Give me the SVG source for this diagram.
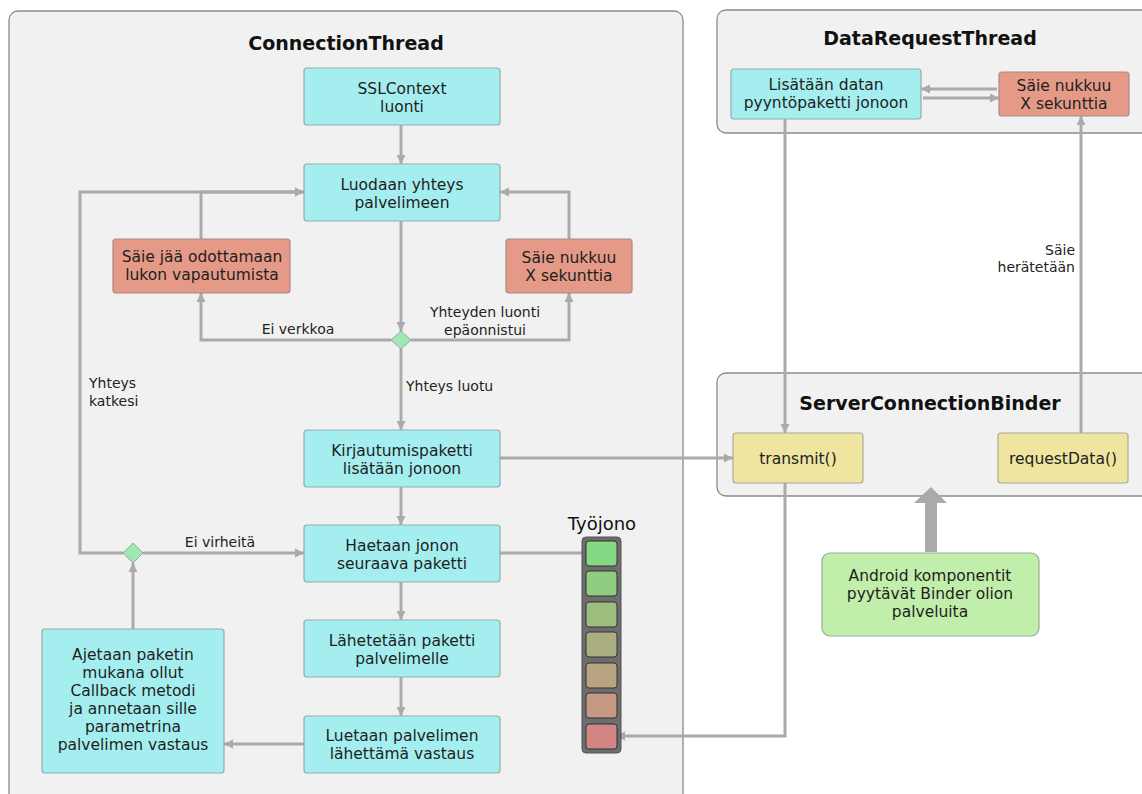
<svg xmlns="http://www.w3.org/2000/svg" width="1142" height="794" viewBox="0 0 1142 794">
<style>
.cont{fill:#f1f1f1;stroke:#8a8a8a;stroke-width:1.3}
.title{font-family:"DejaVu Sans",sans-serif;font-weight:bold;font-size:19px;fill:#111;text-anchor:middle}
.cyan{fill:#a5eeef;stroke:#9aa;stroke-width:1.2}
.red{fill:#e59a88;stroke:#a88;stroke-width:1.2}
.yel{fill:#efe5a0;stroke:#aa9;stroke-width:1.2}
.grn{fill:#c2eeab;stroke:#9a9;stroke-width:1.2}
.bt{font-family:"DejaVu Sans",sans-serif;font-size:15.5px;fill:#1e1e1e;text-anchor:middle}
.lbl{font-family:"DejaVu Sans",sans-serif;font-size:14px;fill:#222}
.mt{font-family:"DejaVu Sans",sans-serif;font-size:15.5px;fill:#222;text-anchor:middle}
.ln{fill:none;stroke:#aaaaaa;stroke-width:3}
.dia{fill:#9de8b5;stroke:#9a9;stroke-width:1}
</style>
<defs>
<marker id="ah" markerUnits="userSpaceOnUse" markerWidth="10" markerHeight="10" refX="9" refY="5" orient="auto">
<path d="M0,0.5 L9,5 L0,9.5 z" fill="#aaaaaa"/>
</marker>
</defs>

<g id="connectionThread">
<rect class="cont" x="9" y="11" width="674" height="800" rx="9"/>
<text class="title" x="346" y="50">ConnectionThread</text>
</g>
<g id="dataRequestThread">
<rect class="cont" x="717" y="10" width="440" height="123" rx="9"/>
<text class="title" x="930" y="45">DataRequestThread</text>
</g>
<g id="serverConnectionBinder">
<rect class="cont" x="717" y="373" width="440" height="123" rx="9"/>
<text class="title" x="930" y="410">ServerConnectionBinder</text>
</g>

<g id="connectors">
<path class="ln" d="M401,125 V164" marker-end="url(#ah)"/>
<path class="ln" d="M401,221 V331" marker-end="url(#ah)"/>
<path class="ln" d="M391,340 H201 V293" marker-end="url(#ah)"/>
<path class="ln" d="M411,340 H569 V293" marker-end="url(#ah)"/>
<path class="ln" d="M201,239 V192 H304" marker-end="url(#ah)"/>
<path class="ln" d="M569,239 V192 H500" marker-end="url(#ah)"/>
<path class="ln" d="M123,553 H80 V192 H304" marker-end="url(#ah)"/>
<path class="ln" d="M401,349 V430" marker-end="url(#ah)"/>
<path class="ln" d="M401,487 V525" marker-end="url(#ah)"/>
<path class="ln" d="M401,582 V620" marker-end="url(#ah)"/>
<path class="ln" d="M401,677 V716" marker-end="url(#ah)"/>
<path class="ln" d="M304,744 H224" marker-end="url(#ah)"/>
<path class="ln" d="M133,629 V563" marker-end="url(#ah)"/>
<path class="ln" d="M143,553 H304" marker-end="url(#ah)"/>
<path class="ln" d="M500,553 H594" marker-end="url(#ah)"/>
<path class="ln" d="M500,458 H733" marker-end="url(#ah)"/>
<path class="ln" d="M785,483 V736 H616" marker-end="url(#ah)"/>
<path class="ln" d="M785,119 V433" marker-end="url(#ah)"/>
<path class="ln" d="M1081,433 V116" marker-end="url(#ah)"/>
<path class="ln" d="M997,89 H921" marker-end="url(#ah)"/>
<path class="ln" d="M923,98 H999" marker-end="url(#ah)"/>
<polygon points="925,552 937,552 937,503 947,503 931,487 914,503 925,503" fill="#aaaaaa"/>
<text class="lbl" x="298" y="334" text-anchor="middle">Ei verkkoa</text>
<text class="lbl" x="485" y="317" text-anchor="middle">Yhteyden luonti</text>
<text class="lbl" x="485" y="335" text-anchor="middle">epäonnistui</text>
<text class="lbl" x="89" y="388">Yhteys</text>
<text class="lbl" x="89" y="406">katkesi</text>
<text class="lbl" x="406" y="391">Yhteys luotu</text>
<text class="lbl" x="220" y="547" text-anchor="middle">Ei virheitä</text>
<text class="lbl" x="1075" y="255" text-anchor="end">Säie</text>
<text class="lbl" x="1075" y="272" text-anchor="end">herätetään</text>
</g>

<g id="sslcontext">
<rect class="cyan" x="304" y="68" width="196" height="57" rx="3"/>
<text class="bt" x="402" y="94">SSLContext</text>
<text class="bt" x="402" y="112">luonti</text>
</g>
<g id="luodaan">
<rect class="cyan" x="304" y="164" width="196" height="57" rx="3"/>
<text class="bt" x="402" y="190">Luodaan yhteys</text>
<text class="bt" x="402" y="208">palvelimeen</text>
</g>
<g id="saie-jaa">
<rect class="red" x="113" y="239" width="177" height="54" rx="3"/>
<text class="bt" x="202" y="262">Säie jää odottamaan</text>
<text class="bt" x="202" y="280">lukon vapautumista</text>
</g>
<g id="saie-nukkuu">
<rect class="red" x="506" y="239" width="126" height="54" rx="3"/>
<text class="bt" x="569" y="263">Säie nukkuu</text>
<text class="bt" x="569" y="281">X sekunttia</text>
</g>
<g id="diamond1">
<polygon class="dia" points="401,331 411,340 401,349 391,340"/>
</g>
<g id="kirjautumis">
<rect class="cyan" x="304" y="430" width="196" height="57" rx="3"/>
<text class="bt" x="402" y="456">Kirjautumispaketti</text>
<text class="bt" x="402" y="474">lisätään jonoon</text>
</g>
<g id="haetaan">
<rect class="cyan" x="304" y="525" width="196" height="57" rx="3"/>
<text class="bt" x="402" y="551">Haetaan jonon</text>
<text class="bt" x="402" y="569">seuraava paketti</text>
</g>
<g id="lahetetaan">
<rect class="cyan" x="304" y="620" width="196" height="57" rx="3"/>
<text class="bt" x="402" y="646">Lähetetään paketti</text>
<text class="bt" x="402" y="664">palvelimelle</text>
</g>
<g id="luetaan">
<rect class="cyan" x="304" y="716" width="196" height="57" rx="3"/>
<text class="bt" x="402" y="741">Luetaan palvelimen</text>
<text class="bt" x="402" y="759">lähettämä vastaus</text>
</g>
<g id="ajetaan">
<rect class="cyan" x="42" y="629" width="182" height="144" rx="3"/>
<text class="bt" x="133" y="660">Ajetaan paketin</text>
<text class="bt" x="133" y="678">mukana ollut</text>
<text class="bt" x="133" y="696">Callback metodi</text>
<text class="bt" x="133" y="714">ja annetaan sille</text>
<text class="bt" x="133" y="732">parametrina</text>
<text class="bt" x="133" y="750">palvelimen vastaus</text>
</g>
<g id="diamond2">
<polygon class="dia" points="133,543 143,553 133,563 123,553"/>
</g>
<g id="tyojono">
<text x="602" y="530" font-family="DejaVu Sans, sans-serif" font-size="18" fill="#111" text-anchor="middle">Työjono</text>
<rect x="582" y="537" width="39" height="216" rx="4" fill="#6d6d6d" stroke="#555" stroke-width="1"/>
<rect x="586" y="541" width="31" height="25" rx="3" fill="#85d985" stroke="#333" stroke-width="1"/>
<rect x="586" y="571" width="31" height="25" rx="3" fill="#8fcc80" stroke="#333" stroke-width="1"/>
<rect x="586" y="602" width="31" height="25" rx="3" fill="#9dbd7e" stroke="#333" stroke-width="1"/>
<rect x="586" y="632" width="31" height="25" rx="3" fill="#abae80" stroke="#333" stroke-width="1"/>
<rect x="586" y="663" width="31" height="25" rx="3" fill="#b9a482" stroke="#333" stroke-width="1"/>
<rect x="586" y="693" width="31" height="25" rx="3" fill="#c69985" stroke="#333" stroke-width="1"/>
<rect x="586" y="724" width="31" height="25" rx="3" fill="#d28585" stroke="#333" stroke-width="1"/>
</g>
<g id="lisataan">
<rect class="cyan" x="731" y="69" width="190" height="50" rx="3"/>
<text class="bt" x="826" y="90">Lisätään datan</text>
<text class="bt" x="826" y="108">pyyntöpaketti jonoon</text>
</g>
<g id="saie-nukkuu-2">
<rect class="red" x="999" y="72" width="130" height="44" rx="3"/>
<text class="bt" x="1064" y="91">Säie nukkuu</text>
<text class="bt" x="1064" y="109">X sekunttia</text>
</g>
<g id="transmit">
<rect class="yel" x="733" y="433" width="130" height="50" rx="3"/>
<text class="mt" x="798" y="464">transmit()</text>
</g>
<g id="requestData">
<rect class="yel" x="998" y="433" width="130" height="50" rx="3"/>
<text class="mt" x="1063" y="464">requestData()</text>
</g>
<g id="android">
<rect class="grn" x="822" y="553" width="217" height="83" rx="8"/>
<text class="bt" x="930" y="581">Android komponentit</text>
<text class="bt" x="930" y="599">pyytävät Binder olion</text>
<text class="bt" x="930" y="617">palveluita</text>
</g>
</svg>
